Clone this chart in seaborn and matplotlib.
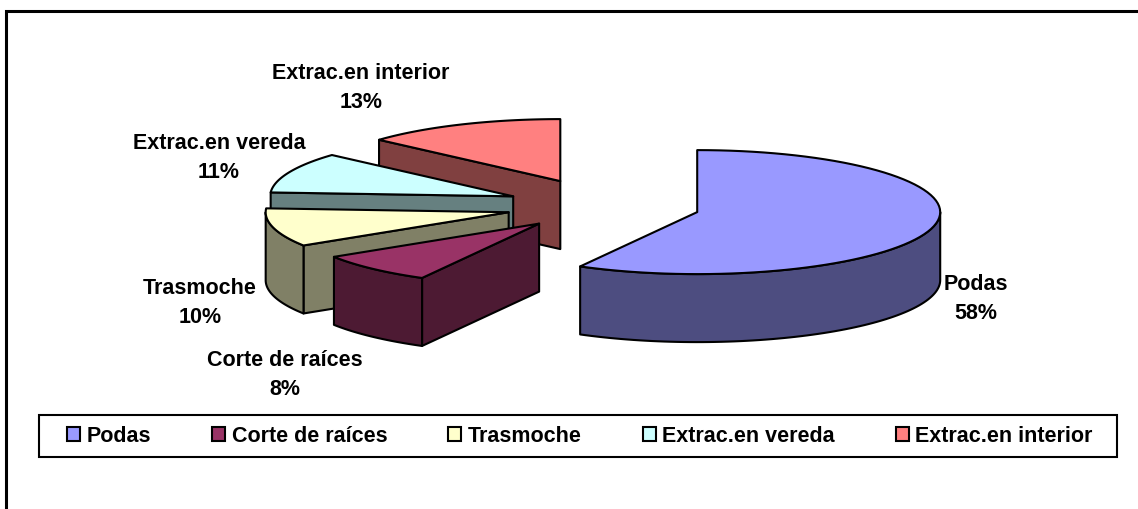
import numpy as np
import matplotlib
matplotlib.use("Agg")
import matplotlib.pyplot as plt
from matplotlib.patches import Polygon, Patch, Rectangle
import seaborn as sns

categories = ["Podas", "Corte de raíces", "Trasmoche", "Extrac.en vereda", "Extrac.en interior"]
values = [58, 8, 10, 10.6, 13.4]
colors = ["#9999FF", "#993366", "#FFFFCC", "#CCFFFF", "#FF8080"]

# layout (pixels)
explode = [0.396, 0.39, 0.405, 0.405, 0.44]
center = (604, 206)
rx, ry, depth = 243, 62, 68
label_pos = [(976, 299), (285, 375), (200, 303), (219, 158), (361, 88)]

sns.set_theme(style="white")
plt.rcParams["font.family"] = ["Liberation Sans", "DejaVu Sans"]
palette = sns.color_palette(colors)

fig = plt.figure(figsize=(11.38, 5.09), dpi=100)
ax = fig.add_axes([0, 0, 1, 1])
ax.set_xlim(0, 1138)
ax.set_ylim(509, 0)
ax.axis("off")
ax.plot([6, 6, 1138], [509, 11, 11], color="black", lw=2.2, solid_joinstyle="miter", clip_on=False)

FS = 15.5
LW = 1.5


def rim(ap, a0, a1, n=80):
    t = np.radians(np.linspace(a0, a1, n))
    return np.column_stack([ap[0] + rx * np.sin(t), ap[1] - ry * np.cos(t)])


fractions = np.array(values) / sum(values) * 360
ends = np.cumsum(fractions)
starts = ends - fractions

for i in range(len(values) - 1, -1, -1):
    a0, a1 = starts[i], ends[i]
    mid = np.radians((a0 + a1) / 2)
    ap = np.array([center[0] + explode[i] * rx * np.sin(mid),
                   center[1] - explode[i] * ry * np.cos(mid)])
    top = palette[i]
    dark = tuple(c * 0.5 for c in top)
    down = np.array([0, depth])
    # radial wall on the leading edge when it faces the viewer
    if 180 <= a0 < 360:
        p = rim(ap, a0, a0, 1)[0]
        ax.add_patch(Polygon([ap, p, p + down, ap + down], fc=dark, ec="black", lw=LW, joinstyle="round"))
    # outer curved wall, front half only
    lo, hi = max(a0, 90), min(a1, 270)
    if lo < hi:
        r = rim(ap, lo, hi)
        ax.add_patch(Polygon(np.vstack([r, (r + down)[::-1]]), fc=dark, ec="black", lw=LW, joinstyle="round"))
    # top face
    ax.add_patch(Polygon(np.vstack([ap, rim(ap, a0, a1)]), fc=top, ec="black", lw=LW, joinstyle="round"))
    ax.text(*label_pos[i], f"{categories[i]}\n{values[i]:.0f}%", ha="center", va="center",
            fontsize=FS, fontweight="bold", color="black", linespacing=1.5)

# legend
ax.add_patch(Rectangle((39, 415), 1078, 42, fc="white", ec="black", lw=1.5))
handles = [Patch(fc=palette[i], ec="black", lw=1.5, label=categories[i]) for i in range(len(values))]
ax.legend(handles=handles, ncol=5, loc="center", bbox_to_anchor=(580, 436),
          bbox_transform=ax.transData, frameon=False,
          prop={"family": "Liberation Sans", "weight": "bold", "size": FS},
          handlelength=0.6, handleheight=0.6, handletextpad=0.3, columnspacing=2.84,
          borderpad=0, borderaxespad=0, labelcolor="black")

fig.savefig("out.png", dpi=100, facecolor="white")
